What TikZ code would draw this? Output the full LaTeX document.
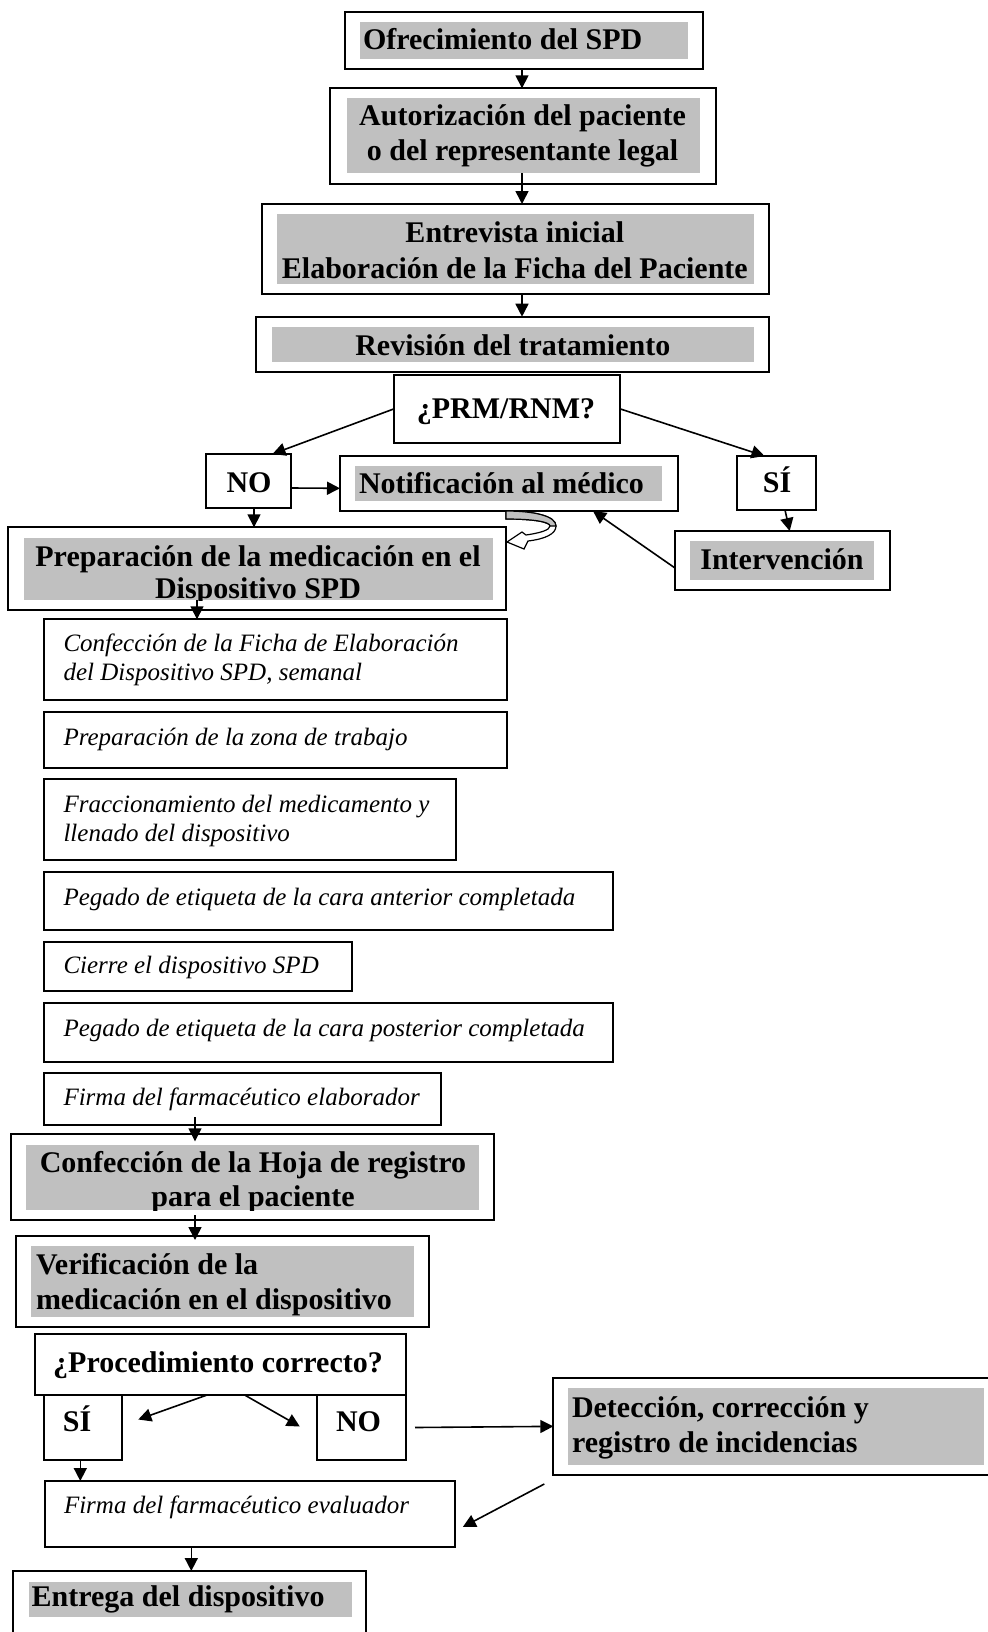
\documentclass[tikz,border=0pt]{standalone}
\usepackage{fontspec}
\setmainfont{Liberation Serif}
\usetikzlibrary{arrows.meta,calc}
\definecolor{hl}{RGB}{192,192,192}
\newcommand{\mkbox}[6]{\node[#1, minimum width={(#5-#3)*0.5pt}, minimum height={(#6-#4)*0.5pt}] (#2) at ({(#3+#5)/2},{(#4+#6)/2}) {};}
\begin{document}
\begin{tikzpicture}[x=0.5pt, y=-0.5pt,
  box/.style={draw, line width=1pt, fill=white, inner sep=0pt, outer sep=0pt},
  hlbox/.style={fill=hl, draw=none, inner sep=0pt, outer sep=0pt},
  bt/.style={font=\fontsize{15pt}{18pt}\selectfont\bfseries, inner sep=0pt, outer sep=0pt},
  itx/.style={font=\fontsize{12.5pt}{15pt}\selectfont\itshape, inner sep=0pt, outer sep=0pt, anchor=base west},
  arr/.style={-{Triangle[length=6.5pt,width=6.5pt]}, line width=0.8pt}]
\useasboundingbox (0,0) rectangle (988,1632);
\fill[white] (0,0) rectangle (988,1632);
\clip (0,0) rectangle (988,1632);

% Box 1
\mkbox{box}{b1}{344.7}{12.3}{703}{69}
\mkbox{hlbox}{b1g}{359.7}{22}{687.7}{59}
\node[bt, anchor=base west] (b1t) at (363,50) {Ofrecimiento del SPD};
% Box 2
\mkbox{box}{b2}{330.4}{88.3}{715.7}{184}
\mkbox{hlbox}{b2g}{346.5}{98.3}{700}{173.3}
\node[bt, anchor=base] (b2ta) at (522.5,126) {Autorización del paciente};
\node[bt, anchor=base] (b2tb) at (522.5,161) {o del representante legal};
% Box 3
\mkbox{box}{b3}{261.5}{204}{768.7}{294.3}
\mkbox{hlbox}{b3g}{277.3}{214}{754}{284.3}
\node[bt, anchor=base] (b3ta) at (514.8,242) {Entrevista inicial};
\node[bt, anchor=base] (b3tb) at (514.8,278) {Elaboración de la Ficha del Paciente};
% Box 4
\mkbox{box}{b4}{256}{316.7}{768.7}{371.7}
\mkbox{hlbox}{b4g}{272.3}{326.7}{754}{361.7}
\node[bt, anchor=base] (b4t) at (512.8,355) {Revisión del tratamiento};
% PRM
\mkbox{box}{prm}{394}{375}{620}{442.7}
\node[bt, anchor=base] (prmt) at (506,418) {¿PRM/RNM?};
% NO / Notif / SI / Intervencion
\mkbox{box}{no1}{206}{454}{291}{508}
\node[bt, anchor=base] (no1t) at (249,492) {NO};
\mkbox{box}{notif}{340}{456}{678}{511}
\mkbox{hlbox}{notifg}{355}{466}{662}{501}
\node[bt, anchor=base west] (notift) at (359,493) {Notificación al médico};
\mkbox{box}{si1}{737}{456}{816}{510}
\node[bt, anchor=base] (si1t) at (777,492) {SÍ};
\mkbox{box}{interv}{675}{531}{890}{590}
\mkbox{hlbox}{intervg}{690}{541}{874}{580}
\node[bt, anchor=base] (intervt) at (782,569) {Intervención};
% Preparacion
\mkbox{box}{prep}{8}{527.3}{506}{610}
\mkbox{hlbox}{prepg}{24}{538.3}{493}{600}
\begin{scope}
\clip (24,538.3) rectangle (493,600);
\node[bt, anchor=base] (prepta) at (258,566.5) {Preparación de la medicación en el};
\node[bt, anchor=base] (preptb) at (258,598.5) {Dispositivo SPD};
\end{scope}
% italic steps
\mkbox{box}{ia}{44}{619.3}{507}{700}
\node[itx] (iat1) at (63.5,651.7) {Confección de la Ficha de Elaboración};
\node[itx] (iat2) at (63.5,680.7) {del Dispositivo SPD, semanal};
\mkbox{box}{ib}{44}{711.7}{507}{768.3}
\node[itx] (ibt) at (63.5,745) {Preparación de la zona de trabajo};
\mkbox{box}{ic}{44}{779.3}{456}{860}
\node[itx] (ict1) at (63.5,812) {Fraccionamiento del medicamento y};
\node[itx] (ict2) at (63.5,841) {llenado del dispositivo};
\mkbox{box}{id}{44}{872.4}{613}{929.7}
\node[itx] (idt) at (63.5,905) {Pegado de etiqueta de la cara anterior completada};
\mkbox{box}{ie}{44}{941.7}{352}{990.7}
\node[itx] (iet) at (63.5,973.3) {Cierre el dispositivo SPD};
\mkbox{box}{iff}{44}{1003.3}{613}{1061.7}
\node[itx] (ift) at (63.5,1036) {Pegado de etiqueta de la cara posterior completada};
\mkbox{box}{ig}{44}{1072.7}{441}{1125}
\node[itx] (igt) at (63.5,1105) {Firma del farmacéutico elaborador};
% Confeccion hoja
\mkbox{box}{conf}{11.3}{1134.3}{493.7}{1220}
\mkbox{hlbox}{confg}{26.3}{1145}{478.7}{1210}
\begin{scope}
\clip (26.3,1145) rectangle (478.7,1210);
\node[bt, anchor=base] (confta) at (253,1172) {Confección de la Hoja de registro};
\node[bt, anchor=base] (conftb) at (253,1206.5) {para el paciente};
\end{scope}
% Verificacion
\mkbox{box}{verif}{15.7}{1236}{428.5}{1327}
\mkbox{hlbox}{verifg}{31.4}{1245.7}{414}{1316.7}
\node[bt, anchor=base west] (verifta) at (36,1274) {Verificación de la};
\node[bt, anchor=base west] (veriftb) at (36,1309) {medicación en el dispositivo};
% Procedimiento
\mkbox{box}{proc}{34.5}{1334}{406}{1395}
\node[bt, anchor=base] (proct) at (218,1372) {¿Procedimiento correcto?};
\mkbox{box}{si2}{44}{1395}{122.3}{1460}
\node[bt, anchor=base] (si2t) at (77,1431.7) {SÍ};
\mkbox{box}{no2}{316.8}{1395}{406}{1460}
\node[bt, anchor=base] (no2t) at (358.5,1431.7) {NO};
% Deteccion
\mkbox{box}{detec}{553.3}{1377.7}{1000}{1475}
\mkbox{hlbox}{detecg}{567.8}{1388}{984}{1465}
\node[bt, anchor=base west] (detecta) at (572,1417) {Detección, corrección y};
\node[bt, anchor=base west] (detectb) at (572,1452) {registro de incidencias};
% Firma evaluador
\mkbox{box}{fe}{45.2}{1481}{454.8}{1547}
\node[itx] (fet) at (64,1513) {Firma del farmacéutico evaluador};
% Entrega
\mkbox{box}{ent}{13}{1571}{366}{1660}
\mkbox{hlbox}{entg}{29.3}{1581.7}{351.7}{1616.7}
\node[bt, anchor=base west] (entt) at (31.7,1606.7) {Entrega del dispositivo};

% curved block arrow
\filldraw[fill=white, line width=0.6pt] (506,511) .. controls (534,511) and (556,516) .. (556,526) .. controls (556,534) and (545,539) .. (528,541) -- (524,549) -- (507,542) -- (522,532) -- (526,535) .. controls (540,533) and (550,530) .. (550,526) .. controls (550,522) and (534,519) .. (506,519) -- cycle;
\filldraw[fill=hl, line width=0.6pt] (506,511) .. controls (534,511) and (556,516) .. (556,526) -- (550,526) .. controls (550,522) and (534,519) .. (506,519) -- cycle;

% connectors
\coordinate (ka) at (522,0);
\draw[arr] (b1.south -| ka) -- (b2.north -| ka);
\draw[arr] (b2g.south -| ka) -- (b3.north -| ka);
\draw[arr] (b3.south -| ka) -- (b4.north -| ka);
\draw[arr] (prm.west) -- ([xshift=12pt]no1.north);
\draw[arr] (prm.east) -- ([xshift=-6pt]si1.north);
\draw[arr] ([yshift=-3.5pt]no1.east) -- ([yshift=-2.4pt]notif.west);
\coordinate (kb) at (254,0);
\draw[arr] (no1.south -| kb) -- (prep.north -| kb);
\draw[arr] ([xshift=4.25pt]si1.south) -- ([xshift=3.6pt]interv.north);
\draw[arr] ([yshift=-3.75pt]interv.west) -- ([xshift=42pt]notif.south);
\coordinate (kc) at (197,0);
\draw[arr] (prepg.south -| kc) -- (ia.north -| kc);
\coordinate (kd) at (195,0);
\draw[arr] ($(ig.south -| kd)+(0,-8)$) -- ($(conf.north -| kd)+(0,7)$);
\draw[arr] ($(conf.south -| kd)+(0,-5)$) -- ($(verif.north -| kd)+(0,4)$);
\draw[arr] ([xshift=-6.6pt]proc.south) -- ($(si2.east)+(16,-8)$);
\draw[arr] ([xshift=12.2pt]proc.south) -- ($(no2.west)+(-17,-1)$);
\draw[arr] ($(no2.east)+(9,0)$) -- (detec.west);
\draw[arr] ($(detec.south west)+(-9,9)$) -- ($(fe.east)+(8,13)$);
\coordinate (ke) at (80.3,0);
\draw[arr] (si2.south -| ke) -- (fe.north -| ke);
\coordinate (kf) at (191.3,0);
\draw[arr] (fe.south -| kf) -- (ent.north -| kf);
\end{tikzpicture}
\end{document}
